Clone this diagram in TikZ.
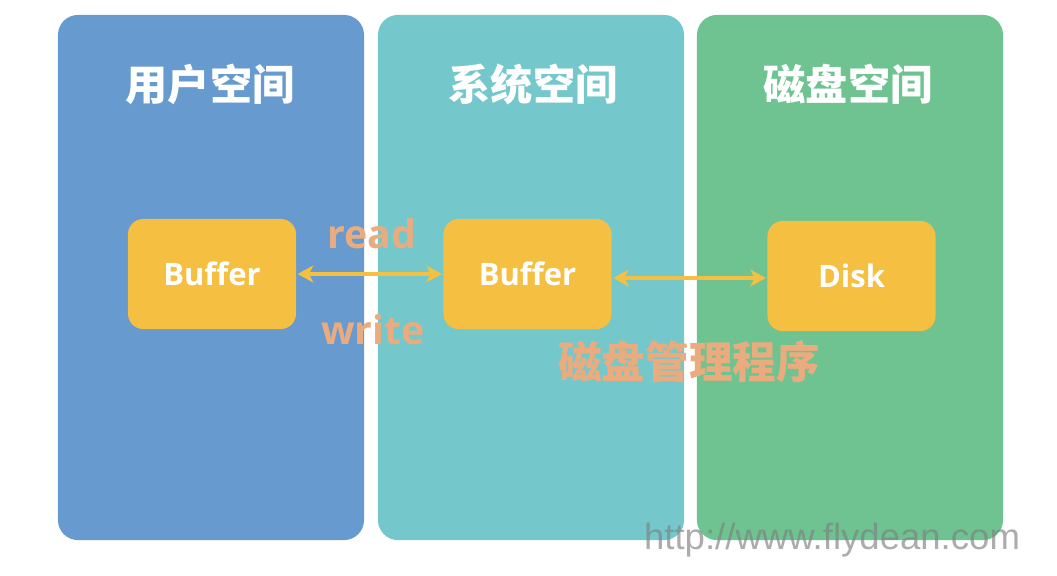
\documentclass[tikz,border=0pt]{standalone}
\usepackage{fontspec}
\setmainfont{Open Sans}
\newfontfamily\cjk{Noto Sans CJK SC}
\newfontfamily\wmfont{Liberation Sans}
\usetikzlibrary{arrows.meta}

\definecolor{userblue}{RGB}{103,154,206}
\definecolor{systeal}{RGB}{116,200,203}
\definecolor{diskgreen}{RGB}{110,195,145}
\definecolor{bufyellow}{RGB}{245,192,66}
\definecolor{labelorange}{RGB}{234,172,126}

\begin{document}
\begin{tikzpicture}[
  x=0.025cm, y=-0.025cm,
  column/.style={rounded corners=0.5cm, minimum width=7.65cm,
    minimum height=13.125cm, inner sep=0pt},
  title/.style={text=white, font=\cjk\bfseries\fontsize{30}{34}\selectfont},
  bufbox/.style={fill=bufyellow, rounded corners=0.38cm, minimum width=4.2cm,
    minimum height=2.75cm, inner sep=0pt, text=white,
    font=\bfseries\fontsize{22}{26}\selectfont},
  link/.style={bufyellow, line width=3.4pt, shorten <=1pt, shorten >=1pt,
    {Stealth[length=11pt,width=12pt,inset=3pt]}-{Stealth[length=11pt,width=12pt,inset=3pt]}},
  oplabel/.style={text=labelorange, font=\bfseries\fontsize{28}{32}\selectfont},
]
\useasboundingbox (0,0) rectangle (1057,575);

% three spaces
\node[column, fill=userblue]  (user) at (211,277.5) {};
\node[column, fill=systeal]   (sys)  at (531,277.5) {};
\node[column, fill=diskgreen] (disk) at (850,277.5) {};

\node[title] at (210,84) {用户空间};
\node[title] at (533,84) {系统空间};
\node[title] at (848,84) {磁盘空间};

% buffers
\node[bufbox] (ubuf) at (212,274) {Buffer};
\node[bufbox] (sbuf) at (527.5,274) {Buffer};
\node[bufbox] (dbuf) at (851.5,276) {Disk};

% connectors
\draw[link] (ubuf) -- (sbuf);
\draw[link] (sbuf.east |- 0,278) -- (dbuf.west |- 0,278);

\node[oplabel] (read)  at (372,234) {read};
\node[oplabel] (write) at (373,330) {write};
\node[oplabel, font=\cjk\bfseries\fontsize{31}{34}\selectfont] (mgr) at (689,362) {磁盘管理程序};

% watermark
\node[text=gray, opacity=0.65, font=\wmfont\fontsize{26}{30}\selectfont] (wm) at (832,540) {http://www.flydean.com};
\end{tikzpicture}
\end{document}
